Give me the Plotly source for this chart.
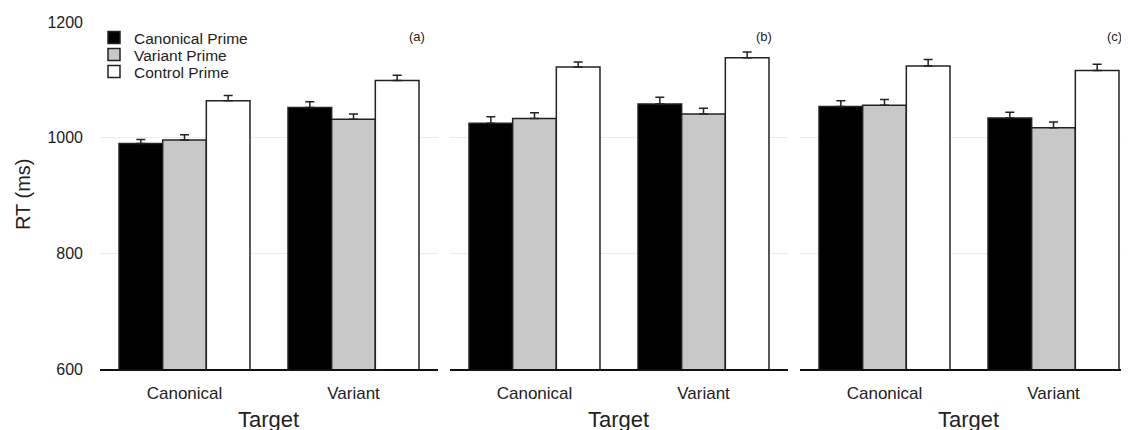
import plotly.graph_objects as go

targets = ["Canonical", "Variant"]
primes = ["Canonical Prime", "Variant Prime", "Control Prime"]
panel_labels = ["(a)", "(b)", "(c)"]

# panel (a)
a_canonical = [990, 1052]
a_canonical_se = [7, 10]
a_variant = [996, 1032]
a_variant_se = [9, 9]
a_control = [1064, 1099]
a_control_se = [9, 9]
# panel (b)
b_canonical = [1025, 1058]
b_canonical_se = [11, 12]
b_variant = [1033, 1041]
b_variant_se = [10, 10]
b_control = [1122, 1138]
b_control_se = [9, 10]
# panel (c)
c_canonical = [1054, 1034]
c_canonical_se = [10, 10]
c_variant = [1056, 1017]
c_variant_se = [10, 10]
c_control = [1124, 1116]
c_control_se = [11, 11]

y_ticks = [600, 800, 1000, 1200]

panels = [
    [(a_canonical, a_canonical_se), (a_variant, a_variant_se), (a_control, a_control_se)],
    [(b_canonical, b_canonical_se), (b_variant, b_variant_se), (b_control, b_control_se)],
    [(c_canonical, c_canonical_se), (c_variant, c_variant_se), (c_control, c_control_se)],
]

fills = ["#000000", "#c8c8c8", "#ffffff"]
edge = "#222222"
FONT = "Liberation Sans, Arial, Helvetica, sans-serif"
legend_ids = ["legend", "legend2", "legend3"]

fig = go.Figure()
for p, series in enumerate(panels):
    xa = "x" if p == 0 else f"x{p+1}"
    ya = "y" if p == 0 else f"y{p+1}"
    for i, (vals, se) in enumerate(series):
        fig.add_trace(go.Bar(
            x=targets, y=vals, name=primes[i],
            marker=dict(color=fills[i], line=dict(color=edge, width=1.5)),
            error_y=dict(type="data", symmetric=False, array=se,
                         arrayminus=[0] * len(se), color=edge,
                         thickness=1.5, width=4.5),
            xaxis=xa, yaxis=ya, legendgroup=primes[i],
            legend=legend_ids[i],
            showlegend=(p == 0),
        ))

W = 1029.0   # plot-area width in px
H = 347.0    # plot-area height in px
doms = [[0, 338 / W], [350 / W, 688 / W], [700 / W, 1.0]]
xranges = [[-0.5, 1.5], [-0.5, 1.5], [-0.5, 1.5 - 9 / 169]]

# page has an 8px body margin: figure origin sits at (8, 8)
layout = dict(
    width=1121, height=422,
    margin=dict(l=92, r=0, t=14, b=61),
    paper_bgcolor="white", plot_bgcolor="white",
    barmode="group", bargap=0.225, bargroupgap=0,
    font=dict(family=FONT, color="#222222", size=16),
    showlegend=True,
)
legend_rows = [38, 55, 72]  # page-pixel row centres
for i, lid in enumerate(legend_ids):
    layout[lid] = dict(x=-6 / W, y=(369 - legend_rows[i]) / H,
                       xanchor="left", yanchor="middle",
                       bgcolor="rgba(0,0,0,0)", font=dict(size=15.5),
                       itemwidth=30)
for p in range(3):
    suf = "" if p == 0 else str(p + 1)
    layout[f"xaxis{suf}"] = dict(
        domain=doms[p], range=xranges[p], anchor=f"y{suf}",
        showline=True, linecolor="#111111", linewidth=1.5,
        showgrid=False, zeroline=False, ticks="",
        ticklabelstandoff=8, tickfont=dict(size=17),
        fixedrange=True,
    )
    ydict = dict(
        range=[600, 1200], anchor=f"x{suf}",
        tickvals=y_ticks, showgrid=True, gridcolor="#ebebeb", gridwidth=1,
        zeroline=False, showline=False, ticks="",
        showticklabels=(p == 0), ticklabelstandoff=16,
        tickfont=dict(size=16),
    )
    if p > 0:
        ydict["matches"] = "y"
    layout[f"yaxis{suf}"] = ydict

fig.update_layout(**layout)

# positions below are page pixels; plot area spans x 100..1129+, y 22..369
fig.add_annotation(text="RT (ms)", xref="paper", yref="paper",
                   x=(23 - 100) / W, y=(369 - 195) / H, textangle=-90,
                   showarrow=False, font=dict(size=20), xanchor="center",
                   yanchor="middle")
centers = [268.5, 618.5, 968]
rights = [427, 774, 1124]
for p in range(3):
    fig.add_annotation(text="Target", xref="paper", yref="paper",
                       x=(centers[p] - 100) / W, y=(369 - 419) / H,
                       showarrow=False, font=dict(size=22),
                       xanchor="center", yanchor="middle")
    fig.add_annotation(text=panel_labels[p], xref="paper", yref="paper",
                       x=(rights[p] - 100) / W, y=(369 - 37) / H,
                       showarrow=False, font=dict(size=13),
                       xanchor="right", yanchor="middle")

fig.write_html("out.html")
